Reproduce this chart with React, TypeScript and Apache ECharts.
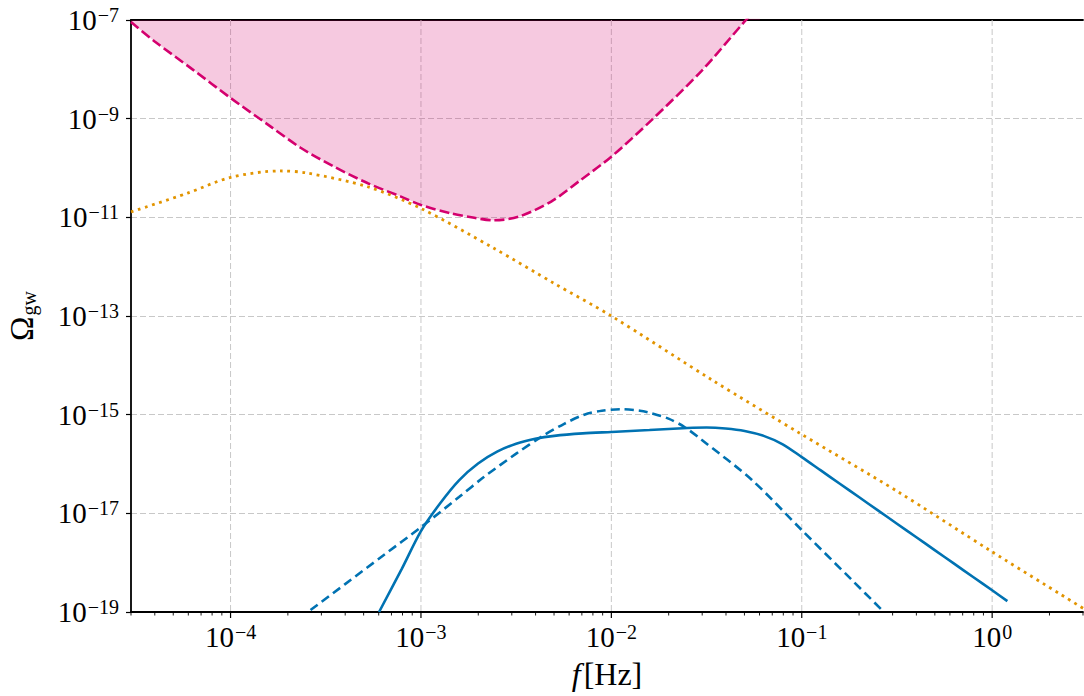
import { useEffect, useRef } from 'react';
import * as echarts from 'echarts';

// Axis ranges (log10 units)
const X_MIN = Math.log10(3e-5);
const X_MAX = Math.log10(3);
const Y_MIN = -19;
const Y_MAX = -7;

// Sensitivity curve (magenta dashed, shaded above) — log10 f [Hz], log10 Omega
const sensLogF = [-4.523, -4.4, -4.2, -4.0, -3.8, -3.632, -3.458, -3.279, -3.105, -3.0, -2.842, -2.72, -2.621, -2.489, -2.316, -2.16, -2.0, -1.789, -1.526, -1.3, -1.22];
const sensLogOmega = [-7.04, -7.43, -8.0, -8.58, -9.13, -9.59, -9.97, -10.31, -10.58, -10.75, -10.92, -11.01, -11.06, -10.99, -10.68, -10.24, -9.77, -9.03, -8.03, -7.03, -6.7];

// Orange dotted curve
const orangeLogF = [-4.523, -4.226, -4.0, -3.74, -3.6, -3.28, -3.0, -2.62, -2.3, -2.0, -1.47, -1.0, -0.5, 0.0, 0.48];
const orangeLogOmega = [-10.89, -10.51, -10.19, -10.06, -10.1, -10.38, -10.82, -11.62, -12.34, -13.0, -14.3, -15.4, -16.55, -17.78, -18.93];

// Blue solid curve
const blueSolidLogF = [-3.22, -3.1, -3.0, -2.9, -2.8, -2.7, -2.6, -2.5, -2.4, -2.3, -2.15, -2.0, -1.8, -1.6, -1.5, -1.4, -1.3, -1.2, -1.1, -1.0, -0.9, -0.8, -0.7, -0.6, -0.5, -0.4, -0.3, -0.2, -0.1, 0.0, 0.08];
const blueSolidLogOmega = [-19.0, -18.12, -17.36, -16.8, -16.33, -15.99, -15.75, -15.59, -15.49, -15.43, -15.38, -15.35, -15.31, -15.27, -15.26, -15.28, -15.33, -15.43, -15.6, -15.86, -16.13, -16.4, -16.67, -16.94, -17.21, -17.48, -17.75, -18.02, -18.29, -18.56, -18.78];

// Blue dashed curve
const blueDashLogF = [-3.58, -3.4, -3.2, -3.0, -2.8, -2.668, -2.5, -2.368, -2.25, -2.142, -2.05, -1.95, -1.85, -1.79, -1.7, -1.616, -1.526, -1.263, -1.0, -0.737, -0.579];
const blueDashLogOmega = [-18.96, -18.44, -17.86, -17.28, -16.67, -16.26, -15.79, -15.45, -15.19, -15.0, -14.92, -14.89, -14.92, -14.97, -15.08, -15.25, -15.51, -16.32, -17.34, -18.35, -18.96];

const zip = (a: number[], b: number[]) => a.map((v, i) => [v, b[i]]);

const FONT = 'Liberation Serif';
const GRID_COLOR = '#c8c8c8';

const expLabel = (v: number) => {
  const r = Math.round(v);
  if (Math.abs(v - r) > 1e-6) return '';
  const s = (r < 0 ? '\u2212' : '') + Math.abs(r);
  return '{b|10}{s|' + s + '}';
};

const richStyle = {
  b: { fontSize: 29, fontFamily: FONT, color: '#000', lineHeight: 30, verticalAlign: 'middle' },
  s: { fontSize: 20, fontFamily: FONT, color: '#000', lineHeight: 18, verticalAlign: 'top', padding: [0, 0, 0, 1] },
};

// x tick positions (major decades + minor 2..9)
const xTickData: number[][] = [];
for (let n = -5; n <= 0; n++) {
  for (let k = 1; k <= 9; k++) {
    const v = n + Math.log10(k);
    if (v >= X_MIN - 1e-9 && v <= X_MAX + 1e-9) xTickData.push([v, k === 1 ? 1 : 0]);
  }
}

export default function App() {
  const ref = useRef<HTMLDivElement>(null);
  useEffect(() => {
    if (!ref.current) return;
    const chart = echarts.init(ref.current, null, { renderer: 'svg' });
    chart.setOption({
      animation: false,
      backgroundColor: '#fff',
      grid: { left: 131, right: 1, top: 20, bottom: 84, containLabel: false, outerBoundsMode: 'none' },
      xAxis: [
        {
          type: 'value',
          min: X_MIN,
          max: X_MAX,
          axisLine: { show: true, onZero: false, lineStyle: { color: '#000', width: 1.8 } },
          axisTick: { show: false },
          splitLine: { show: false },
          axisLabel: {
            formatter: expLabel,
            rich: richStyle,
            margin: 10,
            showMinLabel: false,
            showMaxLabel: false,
          },
          name: '{i|f}{n|[Hz]}',
          nameLocation: 'middle',
          nameGap: 46,
          nameTextStyle: {
            rich: {
              i: { fontSize: 32, fontFamily: FONT, fontStyle: 'italic', color: '#000', padding: [0, 3, 0, 0] },
              n: { fontSize: 32, fontFamily: FONT, color: '#000' },
            },
          },
        },
        {
          type: 'value',
          position: 'top',
          min: X_MIN,
          max: X_MAX,
          axisLine: { show: true, onZero: false, lineStyle: { color: '#000', width: 1.8 } },
          axisTick: { show: false },
          axisLabel: { show: false },
          splitLine: { show: false },
        },
      ],
      yAxis: {
        type: 'value',
        min: Y_MIN,
        max: Y_MAX,
        interval: 2,
        axisLine: { show: true, onZero: false, lineStyle: { color: '#000', width: 1.8 } },
        axisTick: { show: true, length: 5, lineStyle: { color: '#000', width: 1.2 } },
        splitLine: { show: true, lineStyle: { color: GRID_COLOR, type: [6, 3], width: 1 } },
        axisLabel: { formatter: expLabel, rich: richStyle, margin: 12 },
        name: '{o|\u03A9}{g|gw}',
        nameLocation: 'middle',
        nameRotate: 90,
        nameGap: 92,
        nameTextStyle: {
          rich: {
            o: { fontSize: 33, fontFamily: FONT, color: '#000', lineHeight: 34, verticalAlign: 'middle' },
            g: { fontSize: 20, fontFamily: FONT, color: '#000', lineHeight: 34, verticalAlign: 'bottom', padding: [0, 0, 0, 1] },
          },
        },
      },
      series: [
        {
          type: 'custom',
          name: 'xticks',
          coordinateSystem: 'cartesian2d',
          clip: false,
          silent: true,
          z: 1,
          data: xTickData,
          renderItem: (_params: any, api: any) => {
            const v = api.value(0);
            const major = api.value(1) === 1;
            const bot = api.coord([v, Y_MIN]);
            const top = api.coord([v, Y_MAX]);
            const children: any[] = [];
            if (major) {
              children.push({
                type: 'line',
                shape: { x1: bot[0], y1: top[1], x2: bot[0], y2: bot[1] },
                style: { stroke: GRID_COLOR, lineWidth: 1, lineDash: [6, 3] },
              });
            }
            children.push({
              type: 'line',
              shape: { x1: bot[0], y1: bot[1], x2: bot[0], y2: bot[1] + (major ? 6 : 3.5) },
              style: { stroke: '#000', lineWidth: major ? 1.2 : 0.9 },
            });
            return { type: 'group', children };
          },
        },
        {
          type: 'line',
          name: 'sensitivity',
          data: zip(sensLogF, sensLogOmega),
          showSymbol: false,
          symbol: 'none',
          smooth: 0.3,
          clip: true,
          lineStyle: { color: '#d4006e', width: 2.6, type: [10, 4] },
          areaStyle: { origin: 'end', color: 'rgba(212,0,110,0.21)', opacity: 1 },
          z: 3,
        },
        {
          type: 'line',
          name: 'orange',
          data: zip(orangeLogF, orangeLogOmega),
          showSymbol: false,
          symbol: 'none',
          smooth: 0.3,
          clip: true,
          lineStyle: { color: '#e29400', width: 2.8, type: [2.8, 4.6] },
          z: 4,
        },
        {
          type: 'line',
          name: 'blueSolid',
          data: zip(blueSolidLogF, blueSolidLogOmega),
          showSymbol: false,
          symbol: 'none',
          smooth: 0.3,
          clip: true,
          lineStyle: { color: '#0072B2', width: 2.6 },
          z: 4,
        },
        {
          type: 'line',
          name: 'blueDashed',
          data: zip(blueDashLogF, blueDashLogOmega),
          showSymbol: false,
          symbol: 'none',
          smooth: 0.3,
          clip: true,
          lineStyle: { color: '#0072B2', width: 2.6, type: [9, 5] },
          z: 4,
        },
      ],
    });
    return () => chart.dispose();
  }, []);
  return (
    <div
      ref={ref}
      style={{ position: 'fixed', left: 0, top: 0, width: 1084, height: 696, background: '#fff' }}
    />
  );
}
